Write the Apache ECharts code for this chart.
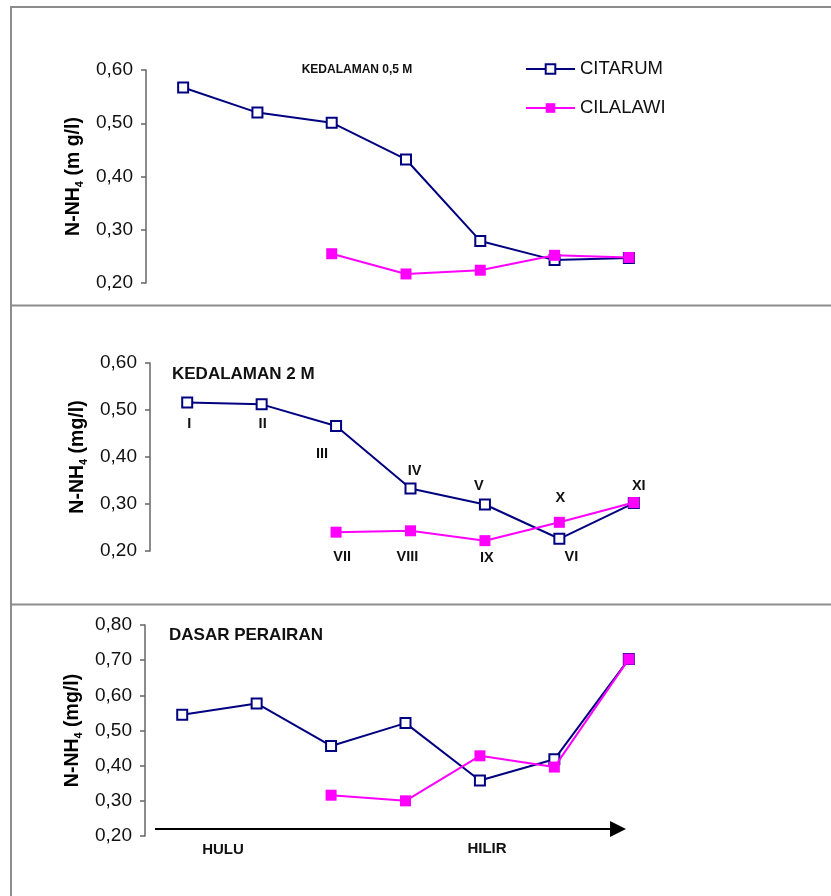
<!DOCTYPE html>
<html>
<head>
<meta charset="utf-8">
<script src="https://cdn.jsdelivr.net/npm/echarts@6/dist/echarts.min.js"></script>
<style>
html,body{margin:0;padding:0;background:#fff;}
#c{width:831px;height:896px;}
</style>
</head>
<body>
<div id="c"></div>
<script>
// ---------- data ----------
var stations = ['1', '2', '3', '4', '5', '6', '7'];
var seriesNames = ['CITARUM', 'CILALAWI'];

// Kedalaman 0,5 m
var citarum05 = [0.567, 0.520, 0.501, 0.432, 0.279, 0.243, 0.247];
var cilalawi05 = [null, null, 0.255, 0.217, 0.224, 0.252, 0.248];

// Kedalaman 2 m
var citarum2 = [0.516, 0.512, 0.466, 0.333, 0.299, 0.226, 0.302];
var cilalawi2 = [null, null, 0.240, 0.243, 0.222, 0.261, 0.303];
var citarum2Labels = ['I', 'II', 'III', 'IV', 'V', 'VI', ''];
var cilalawi2Labels = ['', '', 'VII', 'VIII', 'IX', 'X', 'XI'];

// Dasar perairan
var citarumDasar = [0.545, 0.577, 0.456, 0.521, 0.358, 0.418, 0.703];
var cilalawiDasar = [null, null, 0.316, 0.300, 0.428, 0.396, 0.703];

// y tick values
var yTicks1 = [0.20, 0.30, 0.40, 0.50, 0.60];
var yTicks2 = [0.20, 0.30, 0.40, 0.50, 0.60];
var yTicks3 = [0.20, 0.30, 0.40, 0.50, 0.60, 0.70, 0.80];

var panelTitles = ['KEDALAMAN 0,5 M', 'KEDALAMAN 2 M', 'DASAR PERAIRAN'];
var flowLabels = ['HULU', 'HILIR'];
var yNames = ['{b|N-NH}{s|4}{b| (m g/l)}', '{b|N-NH}{s|4}{b| (mg/l)}', '{b|N-NH}{s|4}{b| (mg/l)}'];

// ---------- styles ----------
var NAVY = '#000080', MAG = '#FF00FF';
var FONT = 'Liberation Sans, Arial, sans-serif';
var label2OffsetsA = [[2, 22], [1, 20], [-14, 28], [4, -17], [-6, -18], [12, 18], [0, 0]];
var label2OffsetsB = [[0, 0], [0, 0], [6, 25], [-3, 26], [2, 17], [1, -24], [5, -17]];

function fmt(v) { return v.toFixed(2).replace('.', ','); }

var grids = [
  { left: 146, top: 70, width: 520, height: 213 },
  { left: 150, top: 363, width: 521, height: 188 },
  { left: 145, top: 625, width: 521, height: 211 }
];
var tickSets = [yTicks1, yTicks2, yTicks3];

var xAxes = grids.map(function (g, i) {
  return {
    gridIndex: i, type: 'category', data: stations, boundaryGap: true,
    axisLine: { show: false }, axisTick: { show: false }, axisLabel: { show: false }, splitLine: { show: false }
  };
});
var yAxes = grids.map(function (g, i) {
  var t = tickSets[i];
  return {
    gridIndex: i, type: 'value', min: t[0], max: t[t.length - 1],
    interval: Math.round((t[1] - t[0]) * 100) / 100,
    axisLine: { show: true, lineStyle: { color: '#666', width: 1.5 } },
    axisTick: { show: true, length: 5, lineStyle: { color: '#666', width: 1.5 } },
    splitLine: { show: false },
    axisLabel: { formatter: fmt, fontSize: 19, color: '#111', fontFamily: FONT, margin: 13 },
    name: yNames[i], nameLocation: 'middle', nameRotate: 90, nameGap: 55,
    nameTextStyle: {
      fontFamily: FONT,
      rich: {
        b: { fontSize: 19.5, fontWeight: 'bold', color: '#000', fontFamily: FONT, lineHeight: 23 },
        s: { fontSize: 11, fontWeight: 'bold', color: '#000', fontFamily: FONT, verticalAlign: 'bottom', lineHeight: 23, padding: [8, 0, 0, 0] }
      }
    }
  };
});

function makeLabel(labels, offs, i) {
  return { show: true, formatter: labels[i], position: 'inside', offset: offs[i],
    fontSize: 14.5, fontWeight: 'bold', color: '#111', fontFamily: FONT };
}
function citarumSeries(data, idx, labels, offs) {
  return {
    name: seriesNames[0], type: 'line', xAxisIndex: idx, yAxisIndex: idx,
    data: data.map(function (v, i) {
      var item = { value: v };
      if (labels && labels[i]) item.label = makeLabel(labels, offs, i);
      return item;
    }),
    symbol: 'rect', symbolSize: 10, showAllSymbol: true,
    lineStyle: { color: NAVY, width: 2 },
    itemStyle: { color: '#fff', borderColor: NAVY, borderWidth: 2 },
    emphasis: { disabled: true }, animation: false, z: 2
  };
}
function cilalawiSeries(data, idx, labels, offs) {
  return {
    name: seriesNames[1], type: 'line', xAxisIndex: idx, yAxisIndex: idx,
    data: data.map(function (v, i) {
      var item = { value: v };
      if (labels && labels[i]) item.label = makeLabel(labels, offs, i);
      return item;
    }),
    symbol: 'rect', symbolSize: 11, showAllSymbol: true,
    lineStyle: { color: MAG, width: 2 },
    itemStyle: { color: MAG, borderColor: MAG, borderWidth: 0 },
    emphasis: { disabled: true }, animation: false, z: 3
  };
}

var BORDER = '#8c8c8c';
function line(x1, y1, x2, y2, color, w) {
  return { type: 'line', shape: { x1: x1, y1: y1, x2: x2, y2: y2 }, style: { stroke: color, lineWidth: w }, silent: true };
}
function txt(s, x, y, size, align) {
  return { type: 'text', x: x, y: y, silent: true,
    style: { text: s, fill: '#111', font: 'bold ' + size + 'px ' + FONT, textAlign: align || 'center', textVerticalAlign: 'middle' } };
}

var option = {
  animation: false,
  backgroundColor: '#fff',
  grid: grids,
  xAxis: xAxes,
  yAxis: yAxes,
  legend: {
    data: seriesNames, orient: 'vertical', left: 525, top: 59, padding: 0,
    itemWidth: 49, itemHeight: 12, itemGap: 19,
    textStyle: { fontSize: 18.5, color: '#111', fontFamily: FONT, lineHeight: 20 }
  },
  series: [
    citarumSeries(citarum05, 0), cilalawiSeries(cilalawi05, 0),
    citarumSeries(citarum2, 1, citarum2Labels, label2OffsetsA), cilalawiSeries(cilalawi2, 1, cilalawi2Labels, label2OffsetsB),
    citarumSeries(citarumDasar, 2), cilalawiSeries(cilalawiDasar, 2)
  ],
  graphic: [
    line(11, 7, 831, 7, BORDER, 2),
    line(11, 6, 11, 896, BORDER, 2),
    line(11, 305.5, 831, 305.5, BORDER, 2),
    line(11, 604.5, 831, 604.5, BORDER, 2),
    txt(panelTitles[0], 357, 70, 12, 'center'),
    txt(panelTitles[1], 172, 374, 17, 'left'),
    txt(panelTitles[2], 169, 635, 17, 'left'),
    line(155, 829, 614, 829, '#000', 2),
    { type: 'polygon', shape: { points: [[610, 821], [626, 829], [610, 837]] }, style: { fill: '#000' }, silent: true },
    txt(flowLabels[0], 223, 850, 15, 'center'),
    txt(flowLabels[1], 487, 849, 15, 'center')
  ]
};

var chart = echarts.init(document.getElementById('c'), null, { renderer: 'canvas' });
chart.setOption(option);
</script>
</body>
</html>
